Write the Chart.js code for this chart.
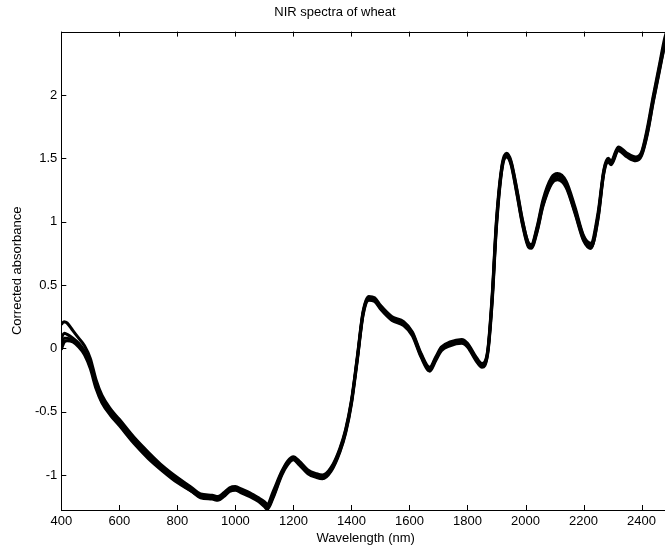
<!DOCTYPE html>
<html>
<head>
<meta charset="utf-8">
<script src="https://cdn.jsdelivr.net/npm/chart.js@4/dist/chart.umd.min.js"></script>
<style>
    html, body { margin: 0; padding: 0; background: #fff; overflow: hidden; }
    canvas { display: block; }
</style>
</head>
<body>
<canvas id="chart-spectra" width="670" height="547"></canvas>
<script>
// wavelengths (nm) where the spectra are sampled
const wavelength = [
    400, 410, 420, 440, 460, 480, 500, 520, 540, 570, 600,
    650, 700, 750, 800, 850, 880, 920, 940, 960, 980, 1000,
    1020, 1050, 1080, 1100, 1110, 1130, 1160, 1180, 1200, 1220,
    1250, 1280, 1300, 1330, 1360, 1380, 1400, 1420, 1440, 1460,
    1480, 1500, 1540, 1580, 1610, 1640, 1670, 1690, 1710, 1740,
    1780, 1800, 1830, 1850, 1870, 1885, 1900, 1920, 1935, 1950,
    1970, 1990, 2010, 2020, 2040, 2060, 2090, 2110, 2140, 2170,
    2200, 2225, 2250, 2270, 2285, 2295, 2320, 2350, 2380, 2400,
    2420, 2440, 2460, 2480, 2498
];

// corrected absorbance, one array per sample
const sample1 = [
    0.19, 0.21, 0.20, 0.14, 0.08, 0.02, -0.08, -0.25, -0.37, -0.48, -0.56,
    -0.70, -0.82, -0.93, -1.02, -1.10, -1.15, -1.16, -1.17, -1.14, -1.10, -1.09,
    -1.11, -1.14, -1.18, -1.21, -1.23, -1.13, -0.97, -0.89, -0.855, -0.89,
    -0.96, -0.99, -1.00, -0.94, -0.79, -0.64, -0.41, -0.07, 0.29, 0.41,
    0.40, 0.34, 0.25, 0.21, 0.13, -0.04, -0.15, -0.07, 0.01, 0.05,
    0.07, 0.04, -0.07, -0.12, -0.01, 0.42, 1.02, 1.46, 1.54, 1.48,
    1.26, 1.01, 0.83, 0.82, 0.96, 1.17, 1.35, 1.38, 1.32, 1.12,
    0.89, 0.83, 1.07, 1.41, 1.50, 1.48, 1.59, 1.54, 1.51, 1.55,
    1.74, 1.99, 2.22, 2.45, 2.58
];
const sample2 = [
    0.08, 0.12, 0.11, 0.08, 0.04, -0.02, -0.12, -0.28, -0.40, -0.50, -0.58,
    -0.72, -0.84, -0.94, -1.03, -1.11, -1.16, -1.17, -1.18, -1.15, -1.11, -1.10,
    -1.12, -1.15, -1.19, -1.23, -1.25, -1.15, -0.98, -0.90, -0.865, -0.90,
    -0.97, -1.00, -1.01, -0.95, -0.80, -0.65, -0.42, -0.08, 0.28, 0.40,
    0.39, 0.33, 0.24, 0.20, 0.12, -0.05, -0.16, -0.08, 0.00, 0.04,
    0.06, 0.03, -0.08, -0.13, -0.02, 0.40, 1.00, 1.45, 1.53, 1.47,
    1.25, 1.00, 0.83, 0.81, 0.95, 1.15, 1.33, 1.36, 1.30, 1.10,
    0.88, 0.81, 1.05, 1.40, 1.49, 1.47, 1.58, 1.53, 1.50, 1.54,
    1.72, 1.97, 2.20, 2.42, 2.55
];
const sample3 = [
    0.04, 0.08, 0.08, 0.06, 0.02, -0.04, -0.14, -0.30, -0.42, -0.52, -0.60,
    -0.74, -0.86, -0.96, -1.05, -1.13, -1.17, -1.18, -1.19, -1.16, -1.12, -1.11,
    -1.13, -1.16, -1.20, -1.24, -1.26, -1.17, -0.99, -0.91, -0.875, -0.91,
    -0.98, -1.01, -1.02, -0.96, -0.81, -0.66, -0.43, -0.09, 0.27, 0.39,
    0.38, 0.32, 0.23, 0.19, 0.11, -0.06, -0.17, -0.09, -0.01, 0.03,
    0.05, 0.02, -0.09, -0.14, -0.03, 0.38, 0.98, 1.44, 1.52, 1.46,
    1.23, 0.98, 0.81, 0.80, 0.93, 1.13, 1.31, 1.34, 1.28, 1.08,
    0.86, 0.79, 1.03, 1.39, 1.48, 1.46, 1.57, 1.52, 1.49, 1.53,
    1.70, 1.95, 2.18, 2.40, 2.52
];
const sample4 = [
    -0.01, 0.05, 0.06, 0.05, 0.01, -0.05, -0.16, -0.32, -0.43, -0.53, -0.61,
    -0.75, -0.87, -0.97, -1.06, -1.13, -1.18, -1.19, -1.20, -1.17, -1.13, -1.12,
    -1.14, -1.17, -1.21, -1.25, -1.27, -1.18, -1.00, -0.92, -0.88, -0.92,
    -0.99, -1.02, -1.03, -0.97, -0.82, -0.67, -0.44, -0.10, 0.26, 0.38,
    0.37, 0.31, 0.22, 0.18, 0.10, -0.07, -0.18, -0.10, -0.02, 0.02,
    0.04, 0.01, -0.10, -0.15, -0.04, 0.36, 0.96, 1.43, 1.51, 1.45,
    1.22, 0.97, 0.80, 0.79, 0.92, 1.12, 1.30, 1.33, 1.27, 1.07,
    0.85, 0.79, 1.02, 1.38, 1.47, 1.45, 1.56, 1.51, 1.48, 1.52,
    1.69, 1.94, 2.17, 2.39, 2.50
];

const xTicks = [400, 600, 800, 1000, 1200, 1400, 1600, 1800, 2000, 2200, 2400];
const yTicks = [-1, -0.5, 0, 0.5, 1, 1.5, 2];

Chart.defaults.font.family = "'Liberation Sans', Arial, sans-serif";
Chart.defaults.font.size = 13;
Chart.defaults.color = "#000";

// box around the axes with inward tick marks on all four sides
const boxTicks = {
    id: "boxTicks",
    afterDraw(chart){
        const {ctx, chartArea: a, scales: {x, y}} = chart;
        const len = 5;
        ctx.save();
        ctx.strokeStyle = "#000";
        ctx.lineWidth = 1;
        ctx.beginPath();
        x.ticks.forEach(t => {
            const px = Math.round(x.getPixelForValue(t.value)) + 0.5;
            ctx.moveTo(px, a.bottom); ctx.lineTo(px, a.bottom - len);
            ctx.moveTo(px, a.top); ctx.lineTo(px, a.top + len);
        });
        y.ticks.forEach(t => {
            const py = Math.round(y.getPixelForValue(t.value)) + 0.5;
            ctx.moveTo(a.left, py); ctx.lineTo(a.left + len, py);
            ctx.moveTo(a.right, py); ctx.lineTo(a.right - len, py);
        });
        ctx.stroke();
        ctx.strokeRect(Math.round(a.left) + 0.5, Math.round(a.top) + 0.5,
            Math.round(a.right - a.left), Math.round(a.bottom - a.top));
        ctx.restore();
    }
};

const samples = [sample1, sample2, sample3, sample4];

new Chart(document.getElementById("chart-spectra"), {
    type: "line",
    data: {
        datasets: samples.map(s => ({
            data: wavelength.map((w, i) => ({x: w, y: s[i]})),
            borderColor: "#000",
            borderWidth: 3,
            pointRadius: 0,
            cubicInterpolationMode: "monotone",
            fill: false,
        }))
    },
    options: {
        responsive: false,
        animation: false,
        layout: { padding: 0 },
        plugins: {
            legend: { display: false },
            tooltip: { enabled: false },
            title: {
                display: true,
                text: "NIR spectra of wheat",
                font: { size: 13, weight: "normal" },
                color: "#000",
                padding: { top: 5, bottom: 11 }
            }
        },
        scales: {
            x: {
                type: "linear",
                min: 400,
                max: 2498,
                afterBuildTicks: s => { s.ticks = xTicks.map(v => ({value: v})); },
                afterFit: s => { s.height = 37; },
                ticks: {
                    padding: 4,
                    maxRotation: 0,
                    autoSkip: false,
                    callback: v => String(v)
                },
                grid: { display: false, drawTicks: false },
                border: { display: false },
                title: {
                    display: true,
                    text: "Wavelength (nm)",
                    font: { size: 13 },
                    padding: { top: 0, bottom: 1 }
                }
            },
            y: {
                type: "linear",
                min: -1.276,
                max: 2.5,
                afterBuildTicks: s => { s.ticks = yTicks.map(v => ({value: v})); },
                afterFit: s => { s.width = 61.3; },
                ticks: {
                    padding: 4,
                    autoSkip: false,
                    callback: v => String(v)
                },
                grid: { display: false, drawTicks: false },
                border: { display: false },
                title: {
                    display: true,
                    text: "Corrected absorbance",
                    font: { size: 13 },
                    padding: { top: 10, bottom: 0 }
                }
            }
        }
    },
    plugins: [boxTicks]
});
</script>
</body>
</html>
